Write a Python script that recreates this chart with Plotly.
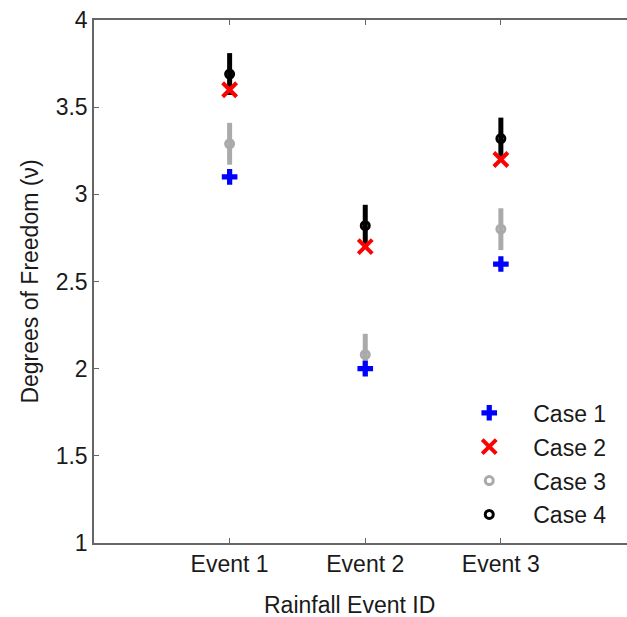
import plotly.graph_objects as go

events = ["Event 1", "Event 2", "Event 3"]
event_pos = [1, 2, 3]
case1 = [3.10, 2.00, 2.60]
case2 = [3.60, 2.70, 3.20]
case3 = [3.29, 2.08, 2.80]
case3_err = [0.12, 0.12, 0.12]
case4 = [3.69, 2.82, 3.32]
case4_err = [0.12, 0.12, 0.12]
y_ticks = [1, 1.5, 2, 2.5, 3, 3.5, 4]

font = "Liberation Sans, Arial, sans-serif"
fs = 23
txtcol = "#1a1a1a"
fig = go.Figure()

fig.add_trace(go.Scatter(
    x=event_pos, y=case4, mode="markers", name="Case 4", legendrank=4,
    legendgroup="c4",
    marker=dict(symbol="circle-open", size=8, color="black", line=dict(width=3, color="black")),
    error_y=dict(type="data", array=case4_err, thickness=5, width=0, color="black"),
))
fig.add_trace(go.Scatter(
    x=event_pos, y=case3, mode="markers", name="Case 3", legendrank=3,
    legendgroup="c3",
    marker=dict(symbol="circle-open", size=8, color="#aaaaaa", line=dict(width=3, color="#aaaaaa")),
    error_y=dict(type="data", array=case3_err, thickness=5, width=0, color="#aaaaaa"),
))
fig.add_trace(go.Scatter(
    x=event_pos, y=case2, mode="markers", name="Case 2", legendrank=2,
    legendgroup="c2",
    marker=dict(symbol="x-thin-open", size=14, color="red", line=dict(width=4, color="red")),
))
fig.add_trace(go.Scatter(
    x=event_pos, y=case1, mode="markers", name="Case 1", legendrank=1,
    legendgroup="c1",
    marker=dict(symbol="cross", size=13, color="blue", line=dict(width=0)),
))

axis_common = dict(
    showline=True, linecolor="#666666", linewidth=1.5,
    ticks="inside", ticklen=5, tickcolor="#666666", tickwidth=1.2,
    showgrid=False, zeroline=False,
    tickfont=dict(family=font, size=fs, color=txtcol),
)

fig.update_layout(
    width=627, height=617,
    margin=dict(l=94, r=0, t=20, b=74),
    paper_bgcolor="white", plot_bgcolor="white",
    font=dict(family=font, size=fs, color=txtcol),
    showlegend=True,
    legend=dict(
        x=0.659, y=0.29, xanchor="left", yanchor="top",
        bgcolor="rgba(0,0,0,0)", borderwidth=0,
        font=dict(family=font, size=fs, color=txtcol),
        tracegroupgap=1, itemwidth=78,
    ),
    xaxis=dict(
        range=[0, 3.93], tickmode="array", tickvals=event_pos, ticktext=events,
        mirror="allticks",
        **axis_common,
    ),
    yaxis=dict(
        range=[1, 4], tickmode="array", tickvals=y_ticks,
        ticktext=[str(v) for v in y_ticks], mirror=False,
        title=dict(text="Degrees of Freedom (ν)", font=dict(family=font, size=fs, color=txtcol), standoff=11),
        **axis_common,
    ),
    annotations=[dict(
        text="Rainfall Event ID", xref="paper", yref="paper",
        x=(349 - 94) / (627 - 94), y=-(605 - 543) / (543 - 20),
        xanchor="center", yanchor="middle", showarrow=False,
        font=dict(family=font, size=fs, color=txtcol),
    )],
)

fig.write_html("out.html")
